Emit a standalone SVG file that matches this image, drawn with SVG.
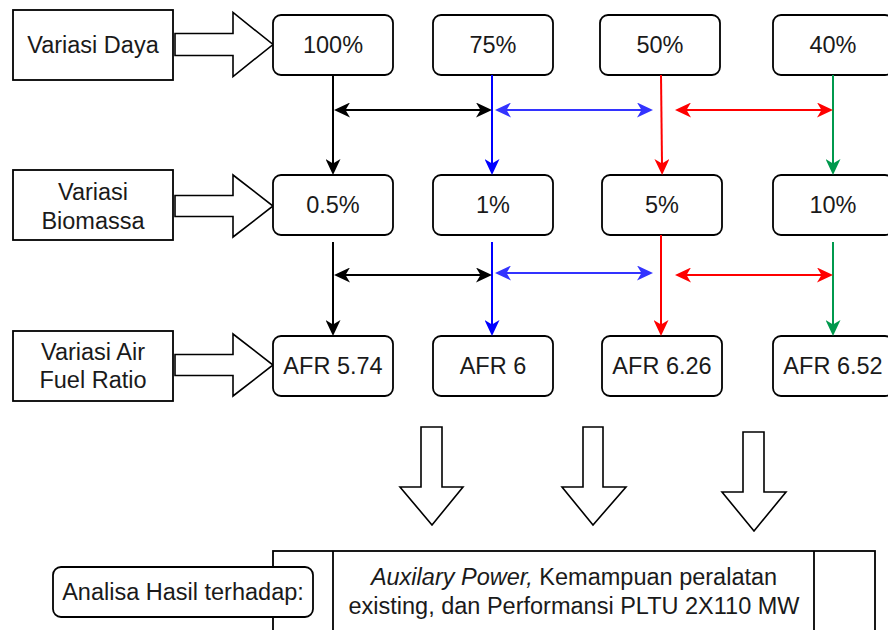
<svg xmlns="http://www.w3.org/2000/svg" width="888" height="630" viewBox="0 0 888 630">
<style>
  .box{fill:#fff;stroke:#000;stroke-width:1.8}
  .blk{fill:#fff;stroke:#000;stroke-width:1.6;stroke-linejoin:miter}
  .t{font-family:"Liberation Sans",Arial,sans-serif;font-size:23.5px;fill:#1a1a1a;text-anchor:middle}
  .c{fill:none;stroke-width:2}
  .k{stroke:#000}
  .b{stroke:#0000FF}
  .lb{stroke:#3333FF}
  .r{stroke:#FF0000}
  .g{stroke:#00994D}
</style>
<defs>
  <marker id="ak" viewBox="0 0 16 15" refX="6" refY="7.5" markerWidth="16" markerHeight="15" markerUnits="userSpaceOnUse" orient="auto-start-reverse"><path d="M0,0 L16,7.5 L0,15 L4.5,7.5 Z" fill="#000"/></marker>
  <marker id="ab" viewBox="0 0 16 15" refX="6" refY="7.5" markerWidth="16" markerHeight="15" markerUnits="userSpaceOnUse" orient="auto-start-reverse"><path d="M0,0 L16,7.5 L0,15 L4.5,7.5 Z" fill="#0000FF"/></marker>
  <marker id="alb" viewBox="0 0 16 15" refX="6" refY="7.5" markerWidth="16" markerHeight="15" markerUnits="userSpaceOnUse" orient="auto-start-reverse"><path d="M0,0 L16,7.5 L0,15 L4.5,7.5 Z" fill="#3333FF"/></marker>
  <marker id="ar" viewBox="0 0 16 15" refX="6" refY="7.5" markerWidth="16" markerHeight="15" markerUnits="userSpaceOnUse" orient="auto-start-reverse"><path d="M0,0 L16,7.5 L0,15 L4.5,7.5 Z" fill="#FF0000"/></marker>
  <marker id="ag" viewBox="0 0 16 15" refX="6" refY="7.5" markerWidth="16" markerHeight="15" markerUnits="userSpaceOnUse" orient="auto-start-reverse"><path d="M0,0 L16,7.5 L0,15 L4.5,7.5 Z" fill="#00994D"/></marker>
</defs>
<rect width="888" height="630" fill="#fff"/>

<!-- left labels -->
<g id="lbl-daya"><rect class="box" x="13" y="10" width="160" height="70"/><text class="t" x="93" y="53.4">Variasi Daya</text></g>
<g id="lbl-biomassa"><rect class="box" x="13" y="170" width="160" height="70"/><text class="t" x="93" y="200">Variasi</text><text class="t" x="93" y="229">Biomassa</text></g>
<g id="lbl-afr"><rect class="box" x="13" y="331" width="160" height="70"/><text class="t" x="93" y="360">Variasi Air</text><text class="t" x="93" y="388">Fuel Ratio</text></g>

<!-- block arrows right -->
<g id="barrow-1"><polygon class="blk" points="175,33.5 233,33.5 233,12.5 273,44.5 233,76.5 233,55.5 175,55.5"/></g>
<g id="barrow-2"><polygon class="blk" points="175,195.5 233,195.5 233,175 273,206 233,237 233,216.5 175,216.5"/></g>
<g id="barrow-3"><polygon class="blk" points="175,354.5 233,354.5 233,334 273,365 233,396 233,375.5 175,375.5"/></g>

<!-- row 1 -->
<g id="n100"><rect class="box" x="273" y="15" width="120" height="60" rx="8"/><text class="t" x="333" y="53.4">100%</text></g>
<g id="n75"><rect class="box" x="433" y="15" width="120" height="60" rx="8"/><text class="t" x="493" y="53.4">75%</text></g>
<g id="n50"><rect class="box" x="600" y="15" width="120" height="60" rx="8"/><text class="t" x="660" y="53.4">50%</text></g>
<g id="n40"><rect class="box" x="773" y="15" width="120" height="60" rx="8"/><text class="t" x="833" y="53.4">40%</text></g>

<!-- row 2 -->
<g id="n05"><rect class="box" x="273" y="175" width="120" height="60" rx="8"/><text class="t" x="333" y="213.4">0.5%</text></g>
<g id="n1"><rect class="box" x="433" y="175" width="120" height="60" rx="8"/><text class="t" x="493" y="213.4">1%</text></g>
<g id="n5"><rect class="box" x="602" y="175" width="120" height="60" rx="8"/><text class="t" x="662" y="213.4">5%</text></g>
<g id="n10"><rect class="box" x="773" y="175" width="120" height="60" rx="8"/><text class="t" x="833" y="213.4">10%</text></g>

<!-- row 3 -->
<g id="afr574"><rect class="box" x="273" y="336" width="120" height="60" rx="8"/><text class="t" x="333" y="374.4">AFR 5.74</text></g>
<g id="afr6"><rect class="box" x="433" y="336" width="120" height="60" rx="8"/><text class="t" x="493" y="374.4">AFR 6</text></g>
<g id="afr626"><rect class="box" x="602" y="336" width="120" height="60" rx="8"/><text class="t" x="662" y="374.4">AFR 6.26</text></g>
<g id="afr652"><rect class="box" x="773" y="336" width="120" height="60" rx="8"/><text class="t" x="833" y="374.4">AFR 6.52</text></g>

<!-- connectors -->
<g id="connectors">
  <path class="c k" d="M333,75 V165" marker-end="url(#ak)"/>
  <path class="c b" d="M492,75 V165" marker-end="url(#ab)"/>
  <path class="c r" d="M661,75 L662,165" marker-end="url(#ar)"/>
  <path class="c g" d="M833,75 V165" marker-end="url(#ag)"/>
  <path class="c k" d="M344,110 H482" marker-start="url(#ak)" marker-end="url(#ak)"/>
  <path class="c lb" d="M505,110 H643" marker-start="url(#alb)" marker-end="url(#alb)"/>
  <path class="c r" d="M685,110 H823" marker-start="url(#ar)" marker-end="url(#ar)"/>

  <path class="c k" d="M333,242 V326" marker-end="url(#ak)"/>
  <path class="c b" d="M492,242 V326" marker-end="url(#ab)"/>
  <path class="c r" d="M661,235 V326" marker-end="url(#ar)"/>
  <path class="c g" d="M833,242 V326" marker-end="url(#ag)"/>
  <path class="c k" d="M344,275 H482" marker-start="url(#ak)" marker-end="url(#ak)"/>
  <path class="c lb" d="M505,273 H643" marker-start="url(#alb)" marker-end="url(#alb)"/>
  <path class="c r" d="M685,275 H823" marker-start="url(#ar)" marker-end="url(#ar)"/>
</g>

<!-- down block arrows -->
<g id="darrow-1"><polygon class="blk" points="421,427 442,427 442,487 463,487 432,525 400,487 421,487"/></g>
<g id="darrow-2"><polygon class="blk" points="583,427 603,427 603,487 626,487 593,525 562,487 583,487"/></g>
<g id="darrow-3"><polygon class="blk" points="743,432 764,432 764,492 786,492 754,531 722,492 743,492"/></g>

<!-- result box -->
<g id="result">
  <rect class="box" x="273" y="551" width="602" height="120"/>
  <line x1="333" y1="551" x2="333" y2="640" stroke="#000" stroke-width="1.8"/>
  <line x1="814" y1="551" x2="814" y2="640" stroke="#000" stroke-width="1.8"/>
  <text class="t" x="574" y="585"><tspan font-style="italic">Auxilary Power,</tspan> Kemampuan peralatan</text>
  <text class="t" x="574" y="614">existing, dan Performansi PLTU 2X110 MW</text>
</g>
<g id="analisa"><rect class="box" x="53" y="567" width="260" height="50" rx="8"/><text class="t" x="183" y="600.4">Analisa Hasil terhadap:</text></g>
</svg>
